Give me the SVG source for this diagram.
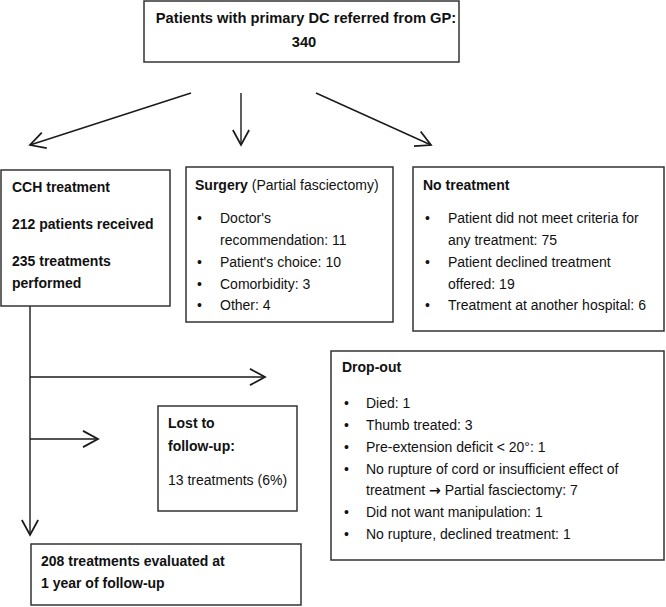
<svg xmlns="http://www.w3.org/2000/svg" width="666" height="607" viewBox="0 0 666 607">
<style>
text{font-family:"Liberation Sans",Arial,sans-serif;font-size:14px;fill:#111}
.b{font-weight:bold}
.box{fill:#fff;stroke:#333;stroke-width:1.5}
.ln{fill:none;stroke:#1a1a1a;stroke-width:1.4}
.arr{font-family:"DejaVu Sans",sans-serif;font-weight:bold}
</style>
<defs>
<marker id="ah" markerUnits="userSpaceOnUse" markerWidth="20" markerHeight="20" refX="0" refY="0" viewBox="-14 -8 16 16" orient="auto" overflow="visible">
<path d="M-12,-6.5 L0,0 L-12,6.5" fill="none" stroke="#1a1a1a" stroke-width="1.4"/>
</marker>
</defs>
<rect width="666" height="607" fill="#fff"/>
<g id="connectors">
<path class="ln" d="M191,93 L30,145" marker-end="url(#ah)"/>
<path class="ln" d="M241,93 L241,145" marker-end="url(#ah)"/>
<path class="ln" d="M316,93 L431,145" marker-end="url(#ah)"/>
<path class="ln" d="M30,306 L30,535" marker-end="url(#ah)"/>
<path class="ln" d="M30,377 L265,377" marker-end="url(#ah)"/>
<path class="ln" d="M30,439 L98,439" marker-end="url(#ah)"/>
</g>
<g id="top">
<rect class="box" x="144" y="1" width="315" height="61"/>
<text class="b" x="306" y="23" text-anchor="middle" style="font-size:14.7px">Patients with primary DC referred from GP:</text>
<text class="b" x="304" y="47" text-anchor="middle" style="font-size:14.7px">340</text>
</g>
<g id="cch">
<rect class="box" x="1" y="170" width="169" height="136"/>
<text class="b" x="12" y="192">CCH treatment</text>
<text class="b" x="12" y="229">212 patients received</text>
<text class="b" x="12" y="266">235 treatments</text>
<text class="b" x="12" y="288">performed</text>
</g>
<g id="surgery">
<rect class="box" x="186" y="167" width="207" height="155"/>
<text x="195" y="190"><tspan class="b">Surgery</tspan> (Partial fasciectomy)</text>
<text x="197" y="223">•</text><text x="220" y="223">Doctor's</text>
<text x="220" y="245">recommendation: 11</text>
<text x="197" y="267">•</text><text x="220" y="267">Patient's choice: 10</text>
<text x="197" y="289">•</text><text x="220" y="289">Comorbidity: 3</text>
<text x="197" y="310">•</text><text x="220" y="310">Other: 4</text>
</g>
<g id="notreatment">
<rect class="box" x="413" y="167" width="251" height="164"/>
<text class="b" x="423" y="190">No treatment</text>
<text x="425" y="223">•</text><text x="448" y="223">Patient did not meet criteria for</text>
<text x="448" y="245">any treatment: 75</text>
<text x="425" y="267">•</text><text x="448" y="267">Patient declined treatment</text>
<text x="448" y="289">offered: 19</text>
<text x="425" y="310">•</text><text x="448" y="310">Treatment at another hospital: 6</text>
</g>
<g id="dropout">
<rect class="box" x="331" y="351" width="333" height="209"/>
<text class="b" x="342" y="372">Drop-out</text>
<text x="344" y="408">•</text><text x="366" y="408">Died: 1</text>
<text x="344" y="430">•</text><text x="366" y="430">Thumb treated: 3</text>
<text x="344" y="452">•</text><text x="366" y="452">Pre-extension deficit &lt; 20°: 1</text>
<text x="344" y="474">•</text><text x="366" y="474">No rupture of cord or insufficient effect of</text>
<text x="366" y="495">treatment <tspan class="arr">→</tspan> Partial fasciectomy: 7</text>
<text x="344" y="517">•</text><text x="366" y="517">Did not want manipulation: 1</text>
<text x="344" y="539">•</text><text x="366" y="539">No rupture, declined treatment: 1</text>
</g>
<g id="lost">
<rect class="box" x="158" y="406" width="139" height="105"/>
<text class="b" x="168" y="428">Lost to</text>
<text class="b" x="168" y="451">follow-up:</text>
<text x="168" y="485">13 treatments (6%)</text>
</g>
<g id="evaluated">
<rect class="box" x="31" y="544" width="270" height="61"/>
<text class="b" x="41" y="566">208 treatments evaluated at</text>
<text class="b" x="41" y="588">1 year of follow-up</text>
</g>
</svg>
